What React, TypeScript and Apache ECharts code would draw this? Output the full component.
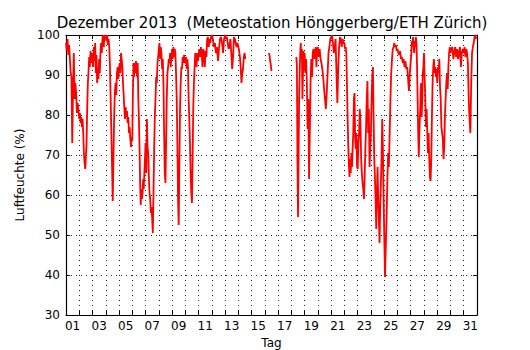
import React, { useEffect, useRef } from "react";
import * as echarts from "echarts";

// Relative humidity (%) per day, samples evenly spaced through each day (null = no data)
const d01 = [98, 96, 99, 95, 97.5, 94, 90.5, 89.5, 73, 86, 95.5, 84, 88, 85.5, 80.5, 83, 81];
const d02 = [79, 80.5, 78, 79.5, 77, 79, 75.5, 70.5, 68, 66.5, 69.5, 73, 82, 88, 91, 94.5, 92, 96, 93, 95.5];
const d03 = [95.5, 92, 97, 93.5, 98, 90.5, 95, 88, 92, 89, 94, 90.5, 96, 98, 95.5, 99, 100, 97, 100, 99];
const d04 = [99.5, 98.5, 100, 97.5, 99, 97, 92, 84, 75.5, 67, 58.5, 69, 79.5, 85.5, 88, 85, 90.5, 92, 89];
const d05 = [91.5, 93, 90.5, 95.5, 94, 92, 88, 85, 81.5, 79, 82, 79.5, 81, 78, 79.5, 75.5, 77, 74, 72, 74.5];
const d06 = [73.5, 85.5, 93, 89.5, 93, 90.5, 93.5, 92, 89.5, 93, 84, 79, 72, 63, 57.5, 61.5, 59, 60.5, 64, 61.5, 65.5, 69];
const d07 = [73, 65.5, 79, 72, 70.5, 64.5, 60.5, 59, 55.5, 57, 54, 50.5, 60.5, 71.5, 79.5, 84, 89.5, 88, 93, 94.5];
const d08 = [96.5, 98, 94, 97, 95.5, 91.5, 94, 88, 75.5, 65.5, 63, 73, 84, 90.5, 92, 94, 93, 95.5, 92, 94.5];
const d09 = [96.5, 94, 97, 94.5, 96.5, 95.5, 90.5, 84, 73, 59, 52.5, 67, 81.5, 88, 92, 91.5, 94.5, 93, 95, 94];
const d10 = [93, 94.5, 91.5, 94, 92, 84, 79, 73, 65.5, 60.5, 58, 69, 82, 88, 92, 95.5, 94, 92, 95.5, 93.5];
const d11 = [93.5, 96.5, 94.5, 97, 95.5, 92, 96.5, 95.5, 92, 96, 94.5, 99, 99.5, 97, 99, 98, 99.5];
const d12 = [100, 99, 97, 98, 95.5, 97, 93.5, 96.5, 99, 99.5, 98, 95.5, 99];
const d13 = [100, 99, 99.5, 98, 96.5, 97, 99, 95.5, 91.5, 94.5, 99.5, 99, 98, 97, 98];
const d14 = [97, 96, 94.5, 92, 88, 90.5, 91.5, 94.5, 95.5, 94, null, null, null, null, null, null, null];
const d15 = [null];
const d16 = [null, null, null, null, null, null, 95.5, 95, 93.5, 92.5, 91, null, null, null, null, null, null, null, null, null];
const d17 = [null];
const d18 = [null, null, null, null, null, null, null, null, null, 94.5, 92, 68, 54.5, 70, 84, 90.5, 95.5, 98, 94, 96.5, 84, 90, 96, 91];
const d19 = [95.5, 90.5, 94, 88, 76.5, 84, 64, 75.5, 88, 94, 89.5, 95.5, 96.5, 94, 95.5, 97, 92, 96.5];
const d20 = [97, 94.5, 96.5, 94, 93, 91.5, 89.5, 86.5, 84, 81.5, 85.5, 90.5, 95.5, 97, 99];
const d21 = [99.5, 100, 98, 95.5, 97, 99, 90.5, 83, 92, 97, 99.5, 99, 97, 99, 98];
const d22 = [98, 96.5, 97, 95.5, 88, 79.5, 73, 68, 64.5, 69, 65.5, 70.5, 67, 71.5, 75.5, 84, 85.5, 74, 71.5, 75.5, 67];
const d23 = [66.5, 73, 75.5, 81.5, 78, 69, 65.5, 63, 61.5, 59, 64.5, 71.5, 77, 84, 88.5, 75.5, 81.5, 67, 71.5];
const d24 = [75.5, 84, 89.5, 92, 79.5, 69, 64.5, 59, 51.5, 60.5, 67, 59, 54, 48, 57, 63, 69, 79, 72, 60.5];
const d25 = [50.5, 39.5, 46.5, 54, 63, 70.5, 67, 75.5, 84, 90.5, 94, 96.5, 97, 98, 97, 97.5, 96];
const d26 = [96.5, 95.5, 95, 96, 94, 94.5, 93, 94, 92, 93.5, 91.5, 92, 89, 86, 90.5];
const d27 = [93.5, 95, 98.5, 97.5, 99.5, 97, 95.5, 98.5, 97, 99.5, 98, 92, 84, 75.5, 69.5, 75.5, 79.5, 84, 88, 79.5, 84, 90.5, 92];
const d28 = [95.5, 89.5, 84, 77, 81.5, 75.5, 70.5, 75.5, 69, 64.5, 63.5, 69, 79.5, 88, 92, 94, 90.5, 92, 89.5, 91.5];
const d29 = [88, 92, 90.5, 94, 87, 84, 77, 75.5, 74, 69, 72, 79.5, 84, 88, 90.5, 86.5, 92, 95.5, 97];
const d30 = [95.5, 96.5, 97, 94, 95.5, 97, 94.5, 96.5, 94, 95.5, 97, 92, 95.5, 96.5];
const d31 = [95.5, 97, 94.5, 96.5, 95.5, 93, 84, 79, 75.5, 88, 95.5, 97, 98, 99.5, 100, 99];

const dayValues: (number | null)[][] = [
  d01, d02, d03, d04, d05, d06, d07, d08, d09, d10, d11, d12, d13, d14, d15, d16,
  d17, d18, d19, d20, d21, d22, d23, d24, d25, d26, d27, d28, d29, d30, d31,
];

const dayLabels = ["01", "03", "05", "07", "09", "11", "13", "15", "17", "19", "21", "23", "25", "27", "29", "31"];
const yTicks = [30, 40, 50, 60, 70, 80, 90, 100];

const TITLE = "Dezember 2013  (Meteostation Hönggerberg/ETH Zürich)";
const FONT = "DejaVu Sans";

export default function App() {
  const ref = useRef<HTMLDivElement>(null);

  useEffect(() => {
    if (!ref.current) return;
    const chart = echarts.init(ref.current, undefined, { renderer: "svg" });

    const data: [number, number | string][] = [];
    dayValues.forEach((vals, i) => {
      const n = vals.length;
      vals.forEach((v, k) => {
        data.push([i + 1 + k / n, v === null ? "-" : v]);
      });
    });

    const labelPos = dayLabels.map((l) => parseInt(l, 10) + 0.5);

    const gridLine = { show: true, lineStyle: { color: "#222", width: 1, type: [1, 4] as number[] } };
    const frame = { show: true, onZero: false, lineStyle: { color: "#000", width: 1.2 } };
    const tick = { show: true, inside: true, length: 4, lineStyle: { color: "#000", width: 1 } };

    chart.setOption({
      animation: false,
      backgroundColor: "#fff",
      graphic: [
        {
          type: "text",
          x: 272,
          y: 23,
          style: {
            text: TITLE,
            font: `15px '${FONT}'`,
            fill: "#000",
            align: "center",
            verticalAlign: "middle",
          },
        },
      ],
      grid: {
        left: 66,
        right: 53,
        top: 35,
        bottom: 35,
        containLabel: false,
        outerBoundsMode: "none",
      },
      xAxis: [
        {
          type: "value",
          min: 1,
          max: 32,
          interval: 1,
          position: "bottom",
          axisLine: frame,
          axisTick: tick,
          splitLine: gridLine,
          axisLabel: {
            show: true,
            customValues: labelPos,
            formatter: (v: number) => {
              const d = Math.floor(v);
              return d < 10 ? "0" + d : String(d);
            },
            color: "#000",
            fontFamily: FONT,
            fontSize: 12,
            margin: 5,
          },
          name: "Tag",
          nameLocation: "middle",
          nameGap: 20,
          nameTextStyle: { color: "#000", fontFamily: FONT, fontSize: 12 },
        },
        {
          type: "value",
          min: 1,
          max: 32,
          interval: 1,
          position: "top",
          axisLine: frame,
          axisTick: tick,
          splitLine: { show: false },
          axisLabel: { show: false },
        },
      ],
      yAxis: [
        {
          type: "value",
          min: 30,
          max: 100,
          interval: 10,
          position: "left",
          axisLine: frame,
          axisTick: tick,
          splitLine: gridLine,
          axisLabel: {
            color: "#000",
            fontFamily: FONT,
            fontSize: 12,
            margin: 6,
            customValues: yTicks,
          },
          name: "Luftfeuchte (%)",
          nameLocation: "middle",
          nameGap: 33,
          nameRotate: 90,
          nameTextStyle: { color: "#000", fontFamily: FONT, fontSize: 12 },
        },
        {
          type: "value",
          min: 30,
          max: 100,
          interval: 10,
          position: "right",
          axisLine: frame,
          axisTick: tick,
          splitLine: { show: false },
          axisLabel: { show: false },
        },
      ],
      series: [
        {
          type: "line",
          xAxisIndex: 0,
          yAxisIndex: 0,
          data,
          showSymbol: false,
          connectNulls: false,
          clip: true,
          lineStyle: { color: "#ff0000", width: 1.8 },
          itemStyle: { color: "#ff0000" },
        },
      ],
    });

    return () => chart.dispose();
  }, []);

  return <div ref={ref} style={{ position: "fixed", left: 0, top: 0, width: 530, height: 350 }} />;
}
